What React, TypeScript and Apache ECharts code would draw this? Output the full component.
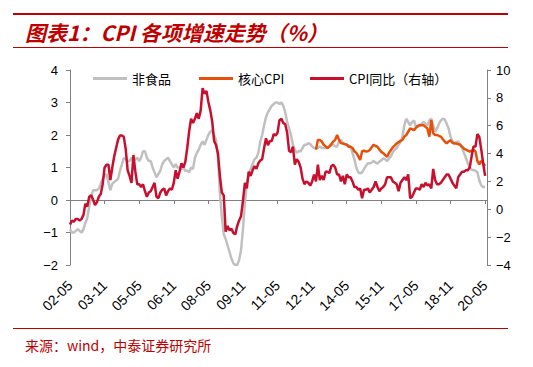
import React, { useEffect, useRef } from "react";
import * as echarts from "echarts";

const START_YEAR = 2002;
const START_MONTH = 5;
const N_MONTHS = 218; // 2002-05 .. 2020-06 (last month has no data)

const categories: string[] = Array.from({ length: N_MONTHS }, (_, i) => {
  const t = START_MONTH - 1 + i;
  const y = START_YEAR + Math.floor(t / 12);
  const m = (t % 12) + 1;
  return `${y}-${String(m).padStart(2, "0")}`;
});

// CPI YoY (right axis), 2002-05 .. 2020-05
const cpiYoY: number[] = [
  -1.1, -0.8, -0.9, -0.7, -0.7, -0.8, -0.7, -0.4,
  0.4, 0.2, 0.9, 1.0, 0.7, 0.3, 0.5, 0.9, 1.1, 1.8, 3.0, 3.2,
  3.2, 2.1, 3.0, 3.8, 4.4, 5.0, 5.3, 5.3, 5.2, 4.3, 2.8, 2.4,
  1.9, 3.9, 2.7, 1.8, 1.8, 1.6, 1.8, 1.3, 0.9, 1.2, 1.3, 1.6,
  1.9, 0.9, 0.8, 1.2, 1.4, 1.5, 1.0, 1.3, 1.5, 1.4, 1.9, 2.8,
  2.2, 2.7, 3.3, 3.0, 3.4, 4.4, 5.6, 6.5, 6.2, 6.5, 6.9, 6.5,
  7.1, 8.7, 8.3, 8.5, 7.7, 7.1, 6.3, 4.9, 4.6, 4.0, 2.4, 1.2,
  1.0, -1.6, -1.2, -1.5, -1.4, -1.7, -1.8, -1.2, -0.8, -0.5, 0.6, 1.9,
  1.5, 2.7, 2.4, 2.8, 3.1, 2.9, 3.3, 3.5, 3.6, 4.4, 5.1, 4.6,
  4.9, 4.9, 5.4, 5.3, 5.5, 6.4, 6.5, 6.2, 6.1, 5.5, 4.2, 4.1,
  4.5, 3.2, 3.6, 3.4, 3.0, 2.2, 1.8, 2.0, 1.9, 1.7, 2.0, 2.5,
  2.0, 3.2, 2.1, 2.4, 2.1, 2.7, 2.7, 2.6, 3.1, 3.2, 3.0, 2.5,
  2.5, 2.0, 2.4, 1.8, 2.5, 2.3, 2.3, 2.0, 1.6, 1.6, 1.4, 1.5,
  0.8, 1.4, 1.4, 1.5, 1.2, 1.4, 1.6, 2.0, 1.6, 1.3, 1.5, 1.6,
  1.8, 2.3, 2.3, 2.3, 2.0, 1.9, 1.8, 1.3, 1.9, 2.1, 2.3, 2.1,
  2.5, 0.8, 0.9, 1.2, 1.5, 1.5, 1.4, 1.8, 1.6, 1.9, 1.7, 1.8,
  1.5, 2.9, 2.1, 1.8, 1.8, 1.9, 2.1, 2.3, 2.5, 2.5, 2.2, 1.9,
  1.7, 1.5, 2.3, 2.5, 2.7, 2.7, 2.8, 2.8, 3.0, 3.8, 4.5, 4.5,
  5.4, 5.2, 4.3, 3.3, 2.4,
];

// Non-food CPI YoY (left axis), 2002-05 .. 2020-05
const nonFood: number[] = [
  -0.9, -1.0, -1.0, -0.95, -0.9, -0.95, -1.0, -0.9, -0.7, -0.55,
  -0.2, 0.1, 0.3, 0.3, 0.3, 0.35, 0.5, 0.65, 0.75, 0.8,
  0.55, 0.3, 0.5, 0.55, 0.6, 0.65, 0.9, 1.1, 1.3, 1.25,
  1.2, 1.2, 1.3, 1.2, 1.25, 1.3, 1.2, 1.3, 1.5, 1.5,
  1.3, 1.2, 1.2, 1.0, 0.85, 0.7, 0.8, 0.9, 1.1, 1.2,
  1.25, 1.3, 1.2, 1.1, 1.0, 1.1, 1.0, 1.0, 0.95, 1.0,
  0.9, 0.9, 0.85, 1.0, 0.95, 1.3, 1.45, 1.55, 1.7, 1.8,
  1.7, 1.85, 2.0, 2.1, 2.15, 2.0, 1.85, 1.3, 0.2, -0.5,
  -1.05, -1.2, -1.4, -1.6, -1.8, -1.95, -2.0, -2.0, -1.85, -1.55,
  -0.9, -0.1, 0.5, 0.8, 0.95, 1.1, 1.25, 1.3, 1.45, 1.8,
  2.0, 2.3, 2.55, 2.7, 2.8, 2.9, 2.95, 3.0, 3.0, 2.95,
  3.0, 2.9, 2.7, 2.4, 2.2, 2.0, 1.7, 1.55, 1.45, 1.5,
  1.5, 1.6, 1.7, 1.7, 1.75, 1.72, 1.65, 1.6, 1.6, 1.6,
  1.65, 1.6, 1.6, 1.6, 1.6, 1.65, 1.68, 1.7, 1.65, 1.65,
  1.8, 1.85, 1.75, 1.72, 1.7, 1.68, 1.64, 1.45, 1.25, 1.0,
  0.85, 0.82, 0.85, 0.95, 1.05, 1.13, 1.13, 1.15, 1.2, 1.15,
  1.12, 1.18, 1.22, 1.28, 1.25, 1.2, 1.28, 1.35, 1.47, 1.55,
  1.6, 1.7, 1.78, 1.95, 2.3, 2.5, 2.4, 2.3, 2.4, 2.45,
  2.25, 2.25, 2.3, 2.35, 2.4, 2.35, 2.3, 2.45, 2.5, 2.3,
  2.1, 2.2, 2.35, 2.45, 2.5, 2.48, 2.35, 2.2, 1.95, 1.8,
  1.75, 1.78, 1.8, 1.7, 1.6, 1.45, 1.3, 1.13, 1.0, 0.92,
  0.92, 0.9, 0.85, 0.6, 0.45, 0.4, 0.4,
];

// Core CPI YoY (left axis), 2013-01 .. 2020-05
const CORE_START = "2013-01";
const coreCpi: number[] = [
  1.55, 1.85, 1.85, 1.8, 1.7, 1.65, 1.6, 1.65, 1.72, 1.8,
  1.85, 2.0, 1.85, 1.75, 1.74, 1.72, 1.7, 1.64, 1.64, 1.6,
  1.5, 1.45, 1.35, 1.23, 1.5, 1.52, 1.49, 1.5, 1.54, 1.62,
  1.7, 1.66, 1.64, 1.55, 1.48, 1.44, 1.38, 1.33, 1.45, 1.54,
  1.62, 1.68, 1.74, 1.78, 1.82, 1.85, 1.95, 2.0, 2.1, 2.2,
  2.18, 2.15, 2.22, 2.28, 2.3, 2.3, 2.3, 2.25, 2.2, 1.95,
  2.46, 2.05, 2.0, 2.0, 1.97, 1.95, 1.87, 1.8, 1.74, 1.8,
  1.84, 1.76, 1.74, 1.74, 1.72, 1.7, 1.64, 1.58, 1.55, 1.52,
  1.49, 1.52, 1.54, 1.49, 1.2, 1.1, 1.2, 1.13, 1.05,
];

const leftTicks = [-2, 4, 1];
const rightTicks = [-4, 10, 2];

const RED = "#C00000";
const C_GRAY = "#C0C0C0";
const C_ORANGE = "#E8500A";
const C_RED = "#C8102E";
const AXIS = "#808080";
const CJK = '"Noto Sans CJK SC", sans-serif';
const LAT = '"Liberation Sans", Arial, sans-serif';

function pad(arr: number[], offset: number): (number | null)[] {
  return categories.map((_, i) => {
    const j = i - offset;
    return j >= 0 && j < arr.length ? arr[j] : null;
  });
}

export default function App() {
  const ref = useRef<HTMLDivElement>(null);
  useEffect(() => {
    if (!ref.current) return;
    const chart = echarts.init(ref.current, undefined, { renderer: "svg" });
    const coreOffset = categories.indexOf(CORE_START);
    const minus = (v: number) => String(v).replace("-", "\u2212");
    const legendBase = {
      top: 67,
      icon: "rect",
      itemWidth: 34,
      itemHeight: 3,
      textStyle: { fontSize: 13, fontFamily: CJK, color: "#000" },
    };
    chart.setOption({
      animation: false,
      backgroundColor: "#fff",
      grid: { left: 70, right: 46, top: 70, bottom: 102, containLabel: false },
      legend: [
        { ...legendBase, left: 88, data: ["非食品"] },
        { ...legendBase, left: 194, data: ["核心CPI"] },
        { ...legendBase, left: 305, data: ["CPI同比（右轴）"] },
      ],
      xAxis: [
        {
          type: "category",
          data: categories,
          boundaryGap: false,
          axisLine: { onZero: true, lineStyle: { color: AXIS, width: 1 } },
          axisTick: { show: true, interval: 17, length: 4, lineStyle: { color: AXIS } },
          axisLabel: { show: false },
          splitLine: { show: false },
        },
        {
          type: "category",
          data: categories,
          boundaryGap: false,
          position: "bottom",
          axisLine: { show: false, onZero: false },
          axisTick: { show: false },
          axisLabel: {
            interval: 17,
            rotate: 45,
            margin: 18,
            fontSize: 14,
            fontFamily: LAT,
            color: "#000",
            formatter: (v: string) => v.slice(2),
          },
          splitLine: { show: false },
        },
      ],
      yAxis: [
        {
          type: "value",
          min: leftTicks[0],
          max: leftTicks[1],
          interval: leftTicks[2],
          position: "left",
          axisLine: { show: true, lineStyle: { color: AXIS } },
          axisTick: { show: true, length: 4, lineStyle: { color: AXIS } },
          axisLabel: { fontSize: 13, fontFamily: LAT, color: "#000", margin: 12, formatter: minus },
          splitLine: { show: false },
        },
        {
          type: "value",
          min: rightTicks[0],
          max: rightTicks[1],
          interval: rightTicks[2],
          position: "right",
          axisLine: { show: true, lineStyle: { color: AXIS } },
          axisTick: { show: true, length: 4, lineStyle: { color: AXIS } },
          axisLabel: { fontSize: 13, fontFamily: LAT, color: "#000", margin: 9, formatter: minus },
          splitLine: { show: false },
        },
      ],
      series: [
        {
          name: "非食品",
          type: "line",
          data: pad(nonFood, 0),
          yAxisIndex: 0,
          symbol: "none",
          lineStyle: { color: C_GRAY, width: 2.5 },
          itemStyle: { color: C_GRAY },
        },
        {
          name: "核心CPI",
          type: "line",
          data: pad(coreCpi, coreOffset),
          yAxisIndex: 0,
          symbol: "none",
          lineStyle: { color: C_ORANGE, width: 2.5 },
          itemStyle: { color: C_ORANGE },
        },
        {
          name: "CPI同比（右轴）",
          type: "line",
          data: pad(cpiYoY, 0),
          yAxisIndex: 1,
          symbol: "none",
          lineStyle: { color: C_RED, width: 2.5 },
          itemStyle: { color: C_RED },
        },
      ],
      graphic: [
        { type: "line", shape: { x1: 13, y1: 14, x2: 508, y2: 14 }, style: { stroke: RED, lineWidth: 2 } },
        {
          type: "text",
          x: 25,
          y: 32,
          style: {
            text: "图表1：CPI 各项增速走势（%）",
            fill: RED,
            fontSize: 21,
            fontWeight: "bold",
            fontStyle: "italic",
            fontFamily: CJK,
            textVerticalAlign: "middle",
            verticalAlign: "middle",
          },
        },
        { type: "line", shape: { x1: 13, y1: 47.5, x2: 508, y2: 47.5 }, style: { stroke: RED, lineWidth: 1 } },
        { type: "line", shape: { x1: 13, y1: 328.5, x2: 508, y2: 328.5 }, style: { stroke: RED, lineWidth: 1 } },
        {
          type: "text",
          x: 25,
          y: 345,
          style: {
            text: "来源：wind，中泰证券研究所",
            fill: RED,
            fontSize: 14,
            fontFamily: CJK,
            textVerticalAlign: "middle",
            verticalAlign: "middle",
          },
        },
      ],
    });
    return () => chart.dispose();
  }, []);
  return (
    <div
      ref={ref}
      style={{ position: "fixed", left: 0, top: 0, width: 533, height: 367, background: "#fff" }}
    />
  );
}
